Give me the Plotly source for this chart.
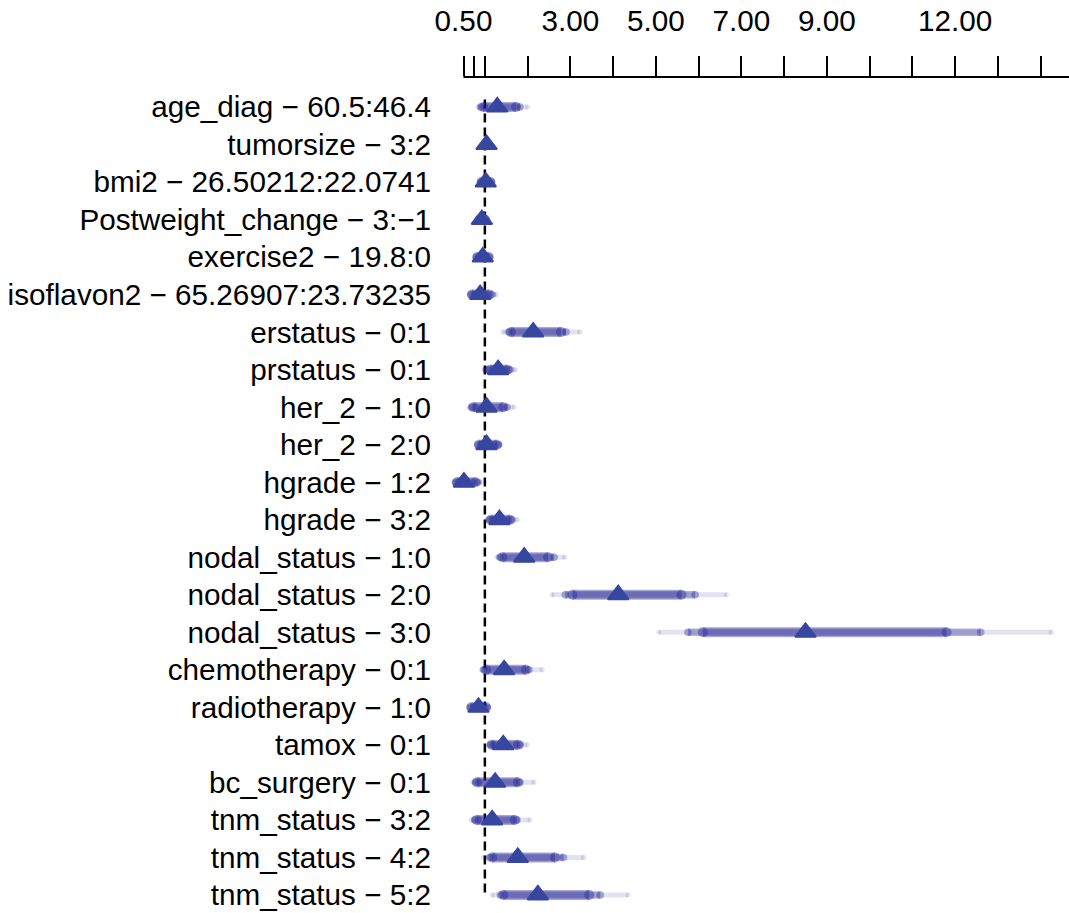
import plotly.graph_objects as go

labels = [
    "age_diag − 60.5:46.4", "tumorsize − 3:2", "bmi2 − 26.50212:22.0741",
    "Postweight_change − 3:−1", "exercise2 − 19.8:0",
    "isoflavon2 − 65.26907:23.73235", "erstatus − 0:1", "prstatus − 0:1",
    "her_2 − 1:0", "her_2 − 2:0", "hgrade − 1:2", "hgrade − 3:2",
    "nodal_status − 1:0", "nodal_status − 2:0", "nodal_status − 3:0",
    "chemotherapy − 0:1", "radiotherapy − 1:0", "tamox − 0:1",
    "bc_surgery − 0:1", "tnm_status − 3:2", "tnm_status − 4:2", "tnm_status − 5:2",
]
effect = [1.29, 1.04, 1.02, 0.93, 0.95, 0.89, 2.13, 1.31, 1.04, 1.04, 0.51, 1.34,
          1.92, 4.12, 8.50, 1.45, 0.85, 1.43, 1.24, 1.17, 1.77, 2.24]
lo90 = [0.96, 1.01, 0.92, 0.87, 0.82, 0.70, 1.61, 1.12, 0.73, 0.86, 0.35, 1.14,
        1.41, 3.05, 6.10, 1.03, 0.68, 1.16, 0.82, 0.81, 1.17, 1.43]
hi90 = [1.73, 1.07, 1.13, 1.01, 1.09, 1.10, 2.78, 1.53, 1.43, 1.28, 0.78, 1.59,
        2.48, 5.60, 11.80, 1.96, 1.03, 1.78, 1.77, 1.70, 2.64, 3.44]
lo95 = [0.90, 1.00, 0.90, 0.86, 0.80, 0.67, 1.56, 1.03, 0.69, 0.84, 0.31, 1.10,
        1.35, 2.88, 5.75, 0.97, 0.66, 1.13, 0.78, 0.76, 1.11, 1.36]
hi95 = [1.82, 1.08, 1.15, 1.02, 1.11, 1.17, 2.90, 1.59, 1.52, 1.32, 0.84, 1.63,
        2.62, 5.92, 12.60, 2.03, 1.05, 1.83, 1.82, 1.75, 2.84, 3.70]
lo99 = [0.84, 0.99, 0.88, 0.84, 0.78, 0.64, 1.42, 0.99, 0.63, 0.82, 0.29, 1.07,
        1.28, 2.57, 5.07, 0.92, 0.64, 1.09, 0.72, 0.68, 0.96, 1.17]
hi99 = [2.00, 1.10, 1.17, 1.04, 1.13, 1.27, 3.22, 1.72, 1.68, 1.37, 0.90, 1.76,
        2.87, 6.65, 14.25, 2.34, 1.08, 1.99, 2.15, 2.05, 3.31, 4.35]

tick_vals = [0.5, 0.75, 1, 2, 3, 4, 5, 6, 7, 8, 9, 10, 11, 12, 13, 14]
tick_text = ["0.50", "", "", "", "3.00", "", "5.00", "", "7.00", "", "9.00", "", "", "12.00", "", ""]
ref_value = 1.0

rows = list(range(len(labels)))
FONT = "Liberation Sans, Arial, Helvetica, sans-serif"
FS = 29.7
base = "28,30,145"


def seg(lo, hi):
    xs, ys = [], []
    for i, (a, b) in enumerate(zip(lo, hi)):
        xs += [a, b, None]
        ys += [i, i, None]
    return xs, ys


fig = go.Figure()
for lo, hi, alpha, w in [(lo99, hi99, 0.13, 5), (lo95, hi95, 0.35, 7.5), (lo90, hi90, 0.39, 10)]:
    xs, ys = seg(lo, hi)
    col = f"rgba({base},{alpha})"
    fig.add_trace(go.Scatter(
        x=xs, y=ys, mode="lines+markers",
        line=dict(color=col, width=w),
        marker=dict(color=col, size=w, line=dict(width=0)),
        hoverinfo="skip", showlegend=False, cliponaxis=False))

fig.add_trace(go.Scatter(
    x=effect, y=rows, mode="markers",
    marker=dict(symbol="triangle-up", size=18, color="#3747a0",
                line=dict(color="#3747a0", width=2)),
    showlegend=False, cliponaxis=False))

# reference line
fig.add_shape(type="line", xref="x", yref="y", x0=ref_value, x1=ref_value,
              y0=rows[0] - 0.2, y1=rows[-1], layer="below",
              line=dict(color="black", width=2.5, dash="9px,5px"))
# top axis line
fig.add_shape(type="line", xref="x", yref="paper", x0=tick_vals[0], x1=15,
              y0=1, y1=1, line=dict(color="black", width=2))

fig.update_layout(
    width=1069, height=913,
    margin=dict(l=440, r=0, t=77, b=0),
    paper_bgcolor="white", plot_bgcolor="white",
    font=dict(family=FONT, size=FS, color="black"),
    xaxis=dict(side="top", range=[-0.0497, 14.664], tickvals=tick_vals,
               ticktext=tick_text, ticks="outside", ticklen=20, tickwidth=2,
               tickcolor="black", showgrid=False, zeroline=False, showline=False,
               ticklabelstandoff=13, tickfont=dict(size=FS, color="black")),
    yaxis=dict(range=[21.482, -0.7996], tickvals=rows, ticktext=labels,
               ticks="", ticklen=0, showgrid=False, zeroline=False, showline=False,
               ticklabelstandoff=8, tickfont=dict(size=FS, color="black")),
)

fig.write_html("out.html")
